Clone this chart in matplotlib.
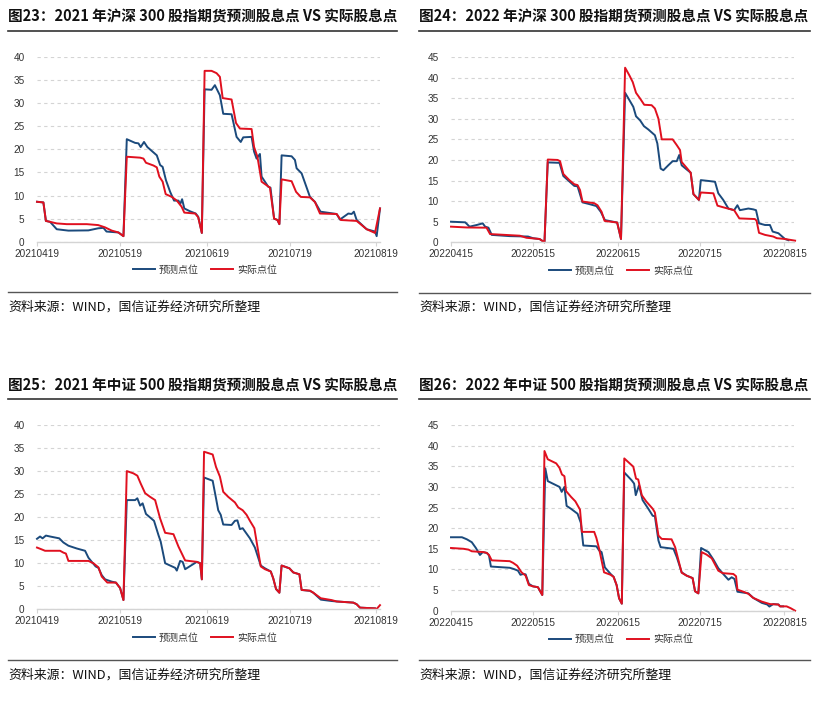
import matplotlib
matplotlib.use("Agg")
import matplotlib.pyplot as plt
from matplotlib.lines import Line2D

# ---------------- data (x = calendar days since first tick date) ----------------
titles = [
    "图23：2021 年沪深 300 股指期货预测股息点 VS 实际股息点",
    "图24：2022 年沪深 300 股指期货预测股息点 VS 实际股息点",
    "图25：2021 年中证 500 股指期货预测股息点 VS 实际股息点",
    "图26：2022 年中证 500 股指期货预测股息点 VS 实际股息点",
]
source_text = "资料来源：WIND，国信证券经济研究所整理"
series_names = ["预测点位", "实际点位"]

ticks_2021 = ["20210419", "20210519", "20210619", "20210719", "20210819"]
ticks_2022 = ["20220415", "20220515", "20220615", "20220715", "20220815"]
tick_days_2021 = [0, 30, 61, 91, 122]
tick_days_2022 = [0, 30, 61, 91, 122]

hs300_2021_pred = [(0, 8.65), (2.3, 8.5), (3.2, 4.5), (4.7, 4.3), (7.1, 2.7), (11.3, 2.4), (18.5, 2.45),
    (22, 2.9), (23.9, 3.0), (25, 2.2), (29.3, 2.0), (31.1, 1.2), (32.3, 22.2), (35.3, 21.4), (36.5, 21.3),
    (37.3, 20.5), (38.5, 21.6), (39.7, 20.5), (43.1, 18.7), (44.3, 16.6), (45.2, 16.2), (46.4, 13.3),
    (47.9, 10.8), (49.3, 8.9), (50.9, 8.9), (51.5, 8.1), (52.2, 9.2), (53, 7.2), (55, 6.6), (57.1, 6.1),
    (58, 5.4), (59.3, 1.9), (60.3, 33.0), (62.8, 32.9), (64, 33.9), (65.8, 31.7), (67, 27.7), (70, 27.6),
    (71.8, 22.7), (73.3, 21.6), (74.2, 22.6), (77.2, 22.7), (78.1, 19.5), (79, 18.0), (79.6, 18.5),
    (80.2, 19.0), (80.8, 14.1), (83.2, 11.9), (84, 11.7), (85.3, 5.0), (86.5, 4.7), (87.2, 3.8), (88, 18.7),
    (91.6, 18.5), (92.8, 17.7), (93.4, 15.9), (95.2, 14.8), (98.2, 9.7), (100, 8.6), (102, 6.5), (107.8, 6.0),
    (109, 4.8), (112, 6.1), (113.2, 6.0), (114, 6.5), (115, 4.7), (118.6, 2.7), (121.6, 2.2), (122.2, 1.2),
    (123.4, 7.2)]
hs300_2021_act = [(0, 8.65), (2.3, 8.5), (3.2, 4.5), (4.7, 4.3), (7.1, 3.96), (10.7, 3.8), (17.9, 3.8),
    (22, 3.6), (24.5, 3.1), (26.9, 2.4), (29.3, 2.0), (31.1, 1.2), (32.3, 18.4), (37.1, 18.2), (38.3, 18.0),
    (39.2, 17.1), (41.9, 16.5), (43.1, 16.1), (44, 14.1), (45.2, 13.0), (46.3, 10.3), (48.5, 9.7),
    (50.3, 8.9), (52, 7.6), (53, 6.3), (56.9, 6.1), (58, 5.3), (59.3, 1.9), (60.3, 37.0), (62.8, 37.0),
    (64.6, 36.5), (65.8, 35.7), (66.8, 31.1), (70, 30.8), (71.6, 25.7), (73, 24.5), (77.2, 24.4),
    (78.1, 20.5), (79.3, 18.4), (80.8, 13.0), (83.8, 11.7), (85.3, 5.0), (86.5, 4.7), (87.2, 3.8),
    (88, 13.5), (91.6, 13.1), (93.2, 10.8), (94.9, 9.7), (98.2, 9.6), (100, 8.6), (101.8, 6.1),
    (107.8, 6.0), (109.3, 4.7), (115, 4.5), (118.6, 2.7), (121.6, 1.9), (123.4, 7.2)]

hs300_2022_pred = [(0, 5.0), (5.2, 4.85), (6.8, 3.8), (9.4, 4.2), (11.6, 4.6), (12.5, 3.8), (13.7, 3.55),
    (14.9, 1.8), (21.5, 1.5), (28.2, 1.4), (30, 1.0), (32.4, 0.8), (34.2, 0.0), (35.4, 19.4), (39.7, 19.3),
    (41.1, 16.1), (45.1, 13.7), (46.3, 13.6), (48.1, 9.7), (50.5, 9.3), (53.2, 8.8), (54.8, 7.4),
    (56.3, 5.4), (60.8, 4.8), (62.2, 0.8), (63.7, 36.3), (65.3, 34.5), (66.7, 32.9), (67.7, 30.6),
    (69.2, 29.6), (70.6, 28.2), (72.2, 27.4), (74.6, 26.0), (75.5, 24.0), (76.7, 17.9), (77.7, 17.5),
    (79.5, 18.7), (81.1, 19.7), (82.6, 19.7), (83.5, 21.2), (84.4, 18.7), (86.2, 17.7), (87.7, 16.9),
    (88.7, 11.7), (90.7, 10.3), (91.4, 15.1), (94.2, 14.9), (96.6, 14.7), (97.8, 11.9), (99.6, 10.3),
    (101.5, 8.2), (103.6, 7.8), (104.8, 9.0), (105.7, 7.8), (108.8, 8.2), (110.6, 8.0), (111.6, 7.8),
    (112.7, 4.6), (114.9, 4.2), (116.7, 4.2), (117.7, 2.6), (119.8, 2.2), (122.2, 0.8), (123.5, 0.5)]
hs300_2022_act = [(0, 3.8), (5.8, 3.6), (13, 3.55), (14.3, 2.0), (25.2, 1.6), (27.6, 1.1), (32.4, 0.8),
    (34.2, 0.0), (35.4, 20.1), (39, 20.0), (39.9, 19.7), (41.1, 16.6), (43.3, 15.1), (45.1, 14.1),
    (46.3, 13.9), (47.2, 12.7), (48.1, 9.9), (52.4, 9.5), (53.6, 9.0), (55.1, 7.4), (56.2, 5.2),
    (60.8, 4.8), (62.2, 0.8), (63.7, 42.4), (65.3, 40.5), (66.5, 38.9), (67.7, 36.3), (69.2, 34.9),
    (70.7, 33.4), (73.4, 33.3), (74.6, 32.5), (75.9, 30.0), (77.1, 25.0), (81.1, 25.0), (82.6, 23.6),
    (83.8, 22.4), (84.4, 19.5), (86.2, 18.1), (87.7, 16.9), (88.7, 11.7), (90.7, 10.3), (91.4, 12.1),
    (96, 11.9), (97.5, 8.9), (99.6, 8.5), (103.6, 7.8), (105.5, 5.8), (111.2, 5.65), (111.8, 5.25),
    (112.7, 2.3), (114.9, 1.8), (117.9, 1.4), (119.2, 1.0), (122.2, 0.8), (125.9, 0.4)]

zz500_2021_pred = [(0, 15.3), (1.1, 15.8), (2, 15.4), (3.2, 16.0), (4.7, 15.8), (8, 15.4), (9.5, 14.5),
    (11.3, 13.8), (14.3, 13.2), (17.3, 12.7), (18.5, 11.2), (19.7, 10.3), (21.1, 9.3), (22.1, 9.0),
    (23.3, 7.4), (24.5, 6.5), (26.9, 6.0), (28.4, 5.8), (29.9, 4.6), (31.1, 2.0), (32.3, 23.7),
    (35.3, 23.7), (36.1, 24.1), (37.1, 22.5), (38, 23.0), (39.2, 20.7), (42.1, 19.2), (43.7, 16.1),
    (44.5, 14.7), (46.1, 10.0), (49.7, 9.0), (50.3, 8.4), (51.5, 10.5), (52.4, 10.3), (53.3, 8.7),
    (57.5, 10.3), (58.7, 10.0), (59.3, 6.5), (60.1, 28.6), (63.2, 27.9), (64.4, 24.1), (65.2, 21.5),
    (66.1, 20.5), (67, 18.4), (70, 18.3), (71.2, 19.2), (72.1, 19.3), (73, 17.4), (74, 17.6),
    (76.6, 15.4), (78.4, 13.4), (80.5, 9.5), (82, 8.9), (84.1, 8.2), (85, 6.7), (86, 4.4), (87.2, 3.6),
    (88, 9.5), (90.8, 8.9), (92.2, 8.0), (94.4, 7.6), (95.2, 4.2), (98.2, 4.0), (99.4, 3.6), (102.1, 2.1),
    (106, 1.8), (107.8, 1.7), (113.8, 1.45), (115, 1.1), (116.2, 0.36), (121.6, 0.2)]
zz500_2021_act = [(0, 13.4), (1.7, 13.0), (2.9, 12.7), (8.3, 12.7), (9.5, 12.3), (10.4, 12.1), (11.3, 10.5),
    (18.5, 10.5), (20.3, 10.0), (22.1, 9.1), (23.3, 7.1), (25.3, 5.8), (28.4, 5.8), (29.9, 4.6),
    (31.1, 2.0), (32.3, 30.0), (34.7, 29.5), (36.1, 29.0), (37.3, 27.3), (38.9, 25.2), (40.7, 24.4),
    (42.5, 23.7), (44.3, 19.7), (46.1, 16.6), (49.1, 16.3), (50.9, 13.6), (53.3, 10.6), (57.5, 10.3),
    (58.7, 10.0), (59.3, 6.5), (60.1, 34.2), (63.2, 33.6), (64.4, 30.9), (65.8, 28.8), (67, 25.5),
    (68.8, 24.4), (71.2, 23.2), (72.4, 22.1), (74, 21.5), (75.4, 20.5), (76.6, 19.2), (78.2, 17.6),
    (79.3, 13.6), (80.5, 9.3), (82, 8.7), (84.1, 8.2), (85, 6.7), (86, 4.4), (87.2, 3.6), (88, 9.5),
    (90.8, 8.9), (92.2, 8.0), (94.4, 7.6), (95.2, 4.2), (98.2, 4.05), (99.4, 3.6), (102.1, 2.4),
    (106, 2.0), (107.8, 1.7), (113.8, 1.45), (115, 1.1), (116.2, 0.36), (121.6, 0.2), (122.2, 0.07),
    (123.4, 0.9)]

zz500_2022_pred = [(0, 17.8), (4, 17.8), (5.8, 17.3), (7.6, 16.6), (9.1, 15.2), (10.6, 13.5), (11.6, 14.2),
    (13.1, 14.0), (13.9, 13.4), (14.6, 10.7), (21.5, 10.4), (23, 10.1), (24.5, 9.7), (25.4, 8.7),
    (26.4, 8.9), (27.3, 8.8), (28.5, 6.5), (30, 5.9), (31.8, 5.7), (33.4, 3.8), (34.5, 34.5), (35.4, 31.4),
    (39.7, 30.0), (40.5, 28.8), (41.5, 30.0), (42.3, 25.4), (43.9, 24.7), (46.3, 23.5), (47.5, 21.3),
    (48.4, 15.8), (53.2, 15.6), (54.2, 14.6), (55.1, 14.2), (56.3, 10.5), (58.4, 8.9), (59.5, 8.2),
    (60.6, 6.2), (61.5, 3.0), (62.5, 1.7), (63.4, 33.5), (66.1, 31.6), (67, 30.8), (67.6, 28.0),
    (68.8, 30.4), (70.1, 26.8), (72.2, 24.7), (73.8, 23.0), (74.6, 22.9), (75.9, 17.0), (76.7, 15.4),
    (81.4, 15.0), (82.6, 13.0), (84.4, 9.3), (86.2, 8.5), (88.4, 7.9), (89.3, 4.7), (90.5, 4.2),
    (91.5, 15.2), (94.2, 14.2), (96, 12.4), (97.8, 10.3), (99.6, 8.9), (101.5, 7.5), (102.7, 8.1),
    (103.7, 7.7), (104.8, 4.6), (108.8, 4.2), (110.6, 3.1), (113.7, 1.9), (115.7, 1.5), (116.5, 1.0),
    (117.9, 1.6), (119.8, 1.5), (120.4, 1.05), (121.5, 1.05)]
zz500_2022_act = [(0, 15.2), (4.6, 15.0), (6.4, 14.8), (7.6, 14.4), (11.9, 14.2), (13.1, 14.0), (13.9, 13.5),
    (14.9, 12.2), (21.5, 12.0), (22.7, 11.6), (24.2, 10.9), (25.8, 9.3), (27.3, 8.5), (28.5, 6.2),
    (30, 5.9), (31.8, 5.7), (33.4, 3.8), (34.2, 38.7), (35.4, 36.7), (38.5, 35.7), (39.7, 34.6),
    (40.6, 33.0), (41.5, 32.6), (42.1, 29.0), (43.9, 27.6), (45.5, 26.5), (47.2, 24.5), (47.9, 19.1),
    (52.4, 19.1), (53.2, 17.6), (54.2, 15.0), (56, 9.3), (58.4, 8.7), (59.5, 8.2), (60.6, 6.2),
    (61.5, 3.0), (62.5, 1.7), (63.4, 36.9), (66.7, 34.9), (67.7, 32.0), (68.5, 31.8), (69.8, 28.0),
    (71.4, 26.5), (73.8, 24.7), (74.6, 23.8), (75.9, 18.2), (77.1, 17.4), (80.7, 17.3), (82, 15.4),
    (84.4, 9.2), (86.2, 8.5), (88.4, 7.9), (89.3, 4.7), (90.5, 4.2), (91.7, 14.2), (93.5, 13.6),
    (95.4, 12.7), (97.8, 9.7), (99.4, 9.1), (103.3, 8.9), (104.3, 8.35), (104.8, 5.1), (107, 4.6),
    (108.8, 4.1), (110.6, 3.1), (113.7, 2.2), (116.7, 1.6), (119.8, 1.5), (120.4, 1.05), (122.8, 1.05),
    (124.3, 0.6), (125.9, 0.0)]

# ---------------- styling / layout ----------------
W, H = 825, 703
BLUE = "#1b4a7c"
RED = "#e0101f"
GRID = "#d4d4d4"
CJK = ["Noto Sans CJK SC", "DejaVu Sans"]
LAT = ["Liberation Sans", "DejaVu Sans"]

fig = plt.figure(figsize=(W / 100, H / 100), dpi=100)

def fx(px):
    return px / W

def fy(py):
    return 1 - py / H

panels = [
    # title, pred, act, ticks, tickdays, ymax, xleft, xright, ytop, ybot, xmax, left_text, line_x1, title_y, tline_y, leg, bline_y, src_y
    dict(title=titles[0], pred=hs300_2021_pred, act=hs300_2021_act, ticks=ticks_2021, tdays=tick_days_2021,
         ymax=40, x0=37, x1=380, ytop=57, ybot=241.7, xmax=123.4, tx=8, lx1=397,
         ty=17, tl=31, legx=205, legy=270, bl=292, sy=307),
    dict(title=titles[1], pred=hs300_2022_pred, act=hs300_2022_act, ticks=ticks_2022, tdays=tick_days_2022,
         ymax=45, x0=451, x1=794, ytop=57, ybot=242.3, xmax=125.5, tx=419, lx1=810,
         ty=17, tl=31, legx=621, legy=270.7, bl=292.5, sy=307),
    dict(title=titles[2], pred=zz500_2021_pred, act=zz500_2021_act, ticks=ticks_2021, tdays=tick_days_2021,
         ymax=40, x0=37, x1=380, ytop=425, ybot=609.3, xmax=123.4, tx=8, lx1=397,
         ty=386, tl=398.5, legx=205, legy=637.7, bl=660, sy=675),
    dict(title=titles[3], pred=zz500_2022_pred, act=zz500_2022_act, ticks=ticks_2022, tdays=tick_days_2022,
         ymax=45, x0=451, x1=794, ytop=425, ybot=610.7, xmax=125.5, tx=419, lx1=810,
         ty=386, tl=398.5, legx=621, legy=639, bl=660, sy=675),
]

for p in panels:
    ax = fig.add_axes([fx(p["x0"]), fy(p["ybot"]), fx(p["x1"] - p["x0"]), (p["ybot"] - p["ytop"]) / H])
    px, py = zip(*p["pred"])
    ax_, ay = zip(*p["act"])
    l1, = ax.plot(px, py, color=BLUE, lw=1.4, solid_joinstyle="round", label=series_names[0])
    l2, = ax.plot(ax_, ay, color=RED, lw=1.4, solid_joinstyle="round", label=series_names[1])
    ax.set_xlim(0, p["xmax"])
    ax.set_ylim(0, p["ymax"])
    ax.set_yticks(range(0, p["ymax"] + 1, 5))
    ax.set_xticks(p["tdays"])
    ax.set_xticklabels(p["ticks"])
    for s in ["top", "right", "left"]:
        ax.spines[s].set_visible(False)
    ax.spines["bottom"].set_color(GRID)
    ax.spines["bottom"].set_linewidth(1.0)
    ax.grid(axis="y", color=GRID, linestyle=(0, (3, 3)), lw=0.8)
    ax.set_axisbelow(True)
    ax.tick_params(axis="x", length=3, color=GRID, pad=2, labelsize=7.2, labelcolor="#333333")
    ax.tick_params(axis="y", length=0, pad=9, labelsize=7.2, labelcolor="#333333")
    for t in ax.get_xticklabels() + ax.get_yticklabels():
        t.set_family(LAT)
    ax.set_clip_on(False)
    for ln in (l1, l2):
        ln.set_clip_on(False)
    leg = ax.legend(handles=[l1, l2], loc="center", bbox_to_anchor=(fx(p["legx"]), fy(p["legy"])),
                    bbox_transform=fig.transFigure, ncol=2, frameon=False, handlelength=2.2,
                    handletextpad=0.4, columnspacing=1.2, prop=dict(family=CJK, size=7.2))
    for t in leg.get_texts():
        t.set_color("#333333")
    # title and rules
    fig.text(fx(p["tx"]), fy(p["ty"]), p["title"], family=CJK, fontsize=10.5, fontweight="bold",
             ha="left", va="center", color="#111111")
    fig.add_artist(Line2D([fx(p["tx"]), fx(p["lx1"])], [fy(p["tl"]), fy(p["tl"])],
                          transform=fig.transFigure, color="#333333", lw=1.2))
    fig.add_artist(Line2D([fx(p["tx"]), fx(p["lx1"])], [fy(p["bl"]), fy(p["bl"])],
                          transform=fig.transFigure, color="#555555", lw=1.0))
    fig.text(fx(p["tx"]), fy(p["sy"]), source_text, family=CJK, fontsize=9.3,
             ha="left", va="center", color="#111111")

fig.savefig("out.png", dpi=100)
